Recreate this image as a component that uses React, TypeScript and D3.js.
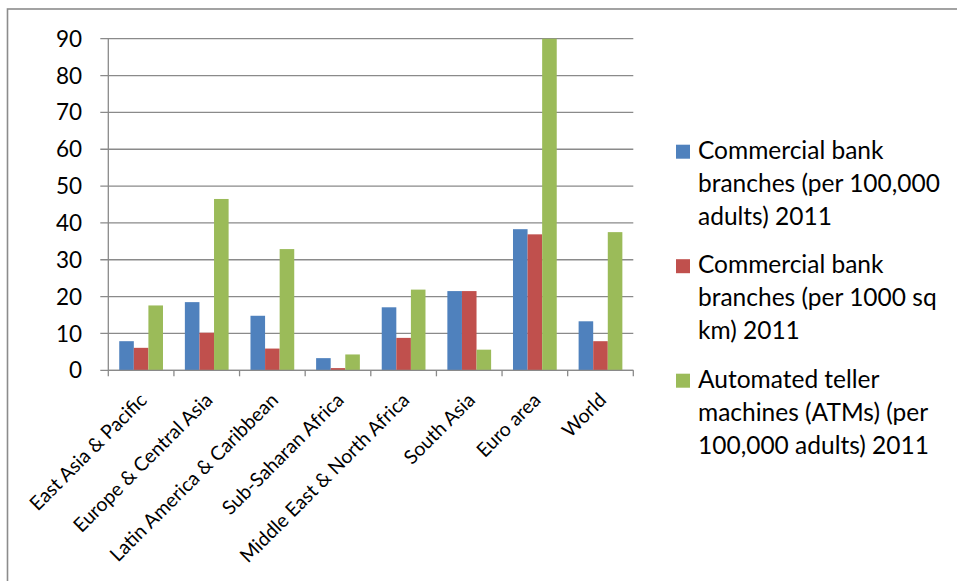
import * as d3 from "d3";

const categories = [
  "East Asia & Pacific",
  "Europe & Central Asia",
  "Latin America & Caribbean",
  "Sub-Saharan Africa",
  "Middle East & North Africa",
  "South Asia",
  "Euro area",
  "World",
];

const branchesPerAdults = [7.9, 18.5, 14.8, 3.3, 17.1, 21.5, 38.3, 13.3];
const branchesPerArea = [6.1, 10.2, 5.9, 0.6, 8.8, 21.5, 36.9, 7.9];
const atmsPerAdults = [17.6, 46.5, 32.9, 4.3, 21.9, 5.6, 90, 37.5];

const seriesNames = [
  ["Commercial bank", "branches (per 100,000", "adults) 2011"],
  ["Commercial bank", "branches (per 1000 sq", "km) 2011"],
  ["Automated teller", "machines (ATMs) (per", "100,000 adults) 2011"],
];
const seriesColors = ["#4F81BD", "#C0504D", "#9BBB59"];
const yTicks = [0, 10, 20, 30, 40, 50, 60, 70, 80, 90];

const W = 957;
const H = 581;
const FONT = "Lato, 'Open Sans', sans-serif";

export default function App() {
  const series = [branchesPerAdults, branchesPerArea, atmsPerAdults];

  const x0 = d3.scaleBand<string>().domain(categories).range([108.3, 633.3]).padding(0);
  const x1 = d3
    .scaleBand<number>()
    .domain([0, 1, 2])
    .range([0, x0.bandwidth()])
    .paddingInner(0)
    .paddingOuter(0.75);
  const y = d3.scaleLinear().domain([0, 90]).range([370.3, 38.7]);

  const left = x0.range()[0];
  const right = x0.range()[1];
  const base = y(0);

  return (
    <svg
      width={W}
      height={H}
      viewBox={`0 0 ${W} ${H}`}
      style={{ position: "absolute", left: 0, top: 0, background: "#fff" }}
      fontFamily={FONT}
    >
      {/* outer frame, only left/top visible */}
      <rect x={7.5} y={9} width={W + 20} height={H + 20} fill="#fff" stroke="#8c8c8c" strokeWidth={1.6} />

      {/* gridlines */}
      {yTicks.map((t) => (
        <g key={t}>
          <line x1={left - 8} x2={right} y1={y(t)} y2={y(t)} stroke="#8a8a8a" strokeWidth={1.3} />
          <text x={82} y={y(t)} dy="0.36em" textAnchor="end" fontSize={22.5} fill="#000">
            {t}
          </text>
        </g>
      ))}

      {/* bars */}
      {categories.map((c, i) => (
        <g key={c} transform={`translate(${x0(c)},0)`}>
          {series.map((s, j) => (
            <rect
              key={j}
              x={x1(j)}
              y={y(s[i])}
              width={x1.bandwidth()}
              height={base - y(s[i])}
              fill={seriesColors[j]}
            />
          ))}
        </g>
      ))}

      {/* axes */}
      <line x1={left} x2={left} y1={y(90)} y2={base} stroke="#8a8a8a" strokeWidth={1.3} />
      <line x1={left} x2={right} y1={base} y2={base} stroke="#8a8a8a" strokeWidth={1.3} />
      {[...categories.map((c) => x0(c) ?? 0), right].map((tx, i) => (
        <line key={i} x1={tx} x2={tx} y1={base} y2={base + 6} stroke="#8a8a8a" strokeWidth={1.3} />
      ))}

      {/* category labels */}
      {categories.map((c) => {
        const cx = (x0(c) ?? 0) + x0.bandwidth() / 2 + 7;
        const cy = base + 31;
        return (
          <text
            key={c}
            transform={`translate(${cx},${cy}) rotate(-45)`}
            textAnchor="end"
            fontSize={19.5}
            fill="#000"
          >
            {c}
          </text>
        );
      })}

      {/* legend */}
      {seriesNames.map((lines, j) => {
        const by = 158.7 + j * 114.5;
        return (
          <g key={j}>
            <rect x={676} y={by - 14} width={14} height={14} fill={seriesColors[j]} />
            {lines.map((ln, k) => (
              <text key={k} x={698} y={by + k * 33} fontSize={24.5} fill="#000">
                {ln}
              </text>
            ))}
          </g>
        );
      })}
    </svg>
  );
}
